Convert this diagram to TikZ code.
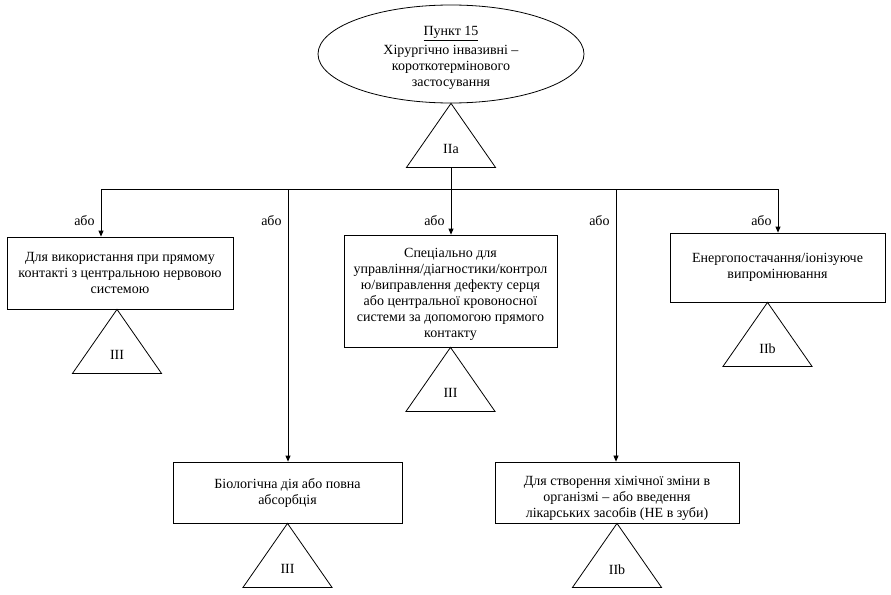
\documentclass[tikz,border=0pt]{standalone}
\usepackage{fontspec}
\setmainfont{Liberation Serif}
\usetikzlibrary{arrows.meta,calc,shapes.geometric}

\tikzset{
  txt/.style={font=\fontsize{14}{16}\selectfont},
  box/.style={draw, rectangle, txt, align=center, inner sep=2pt},
  ili/.style={txt, anchor=east, inner sep=1pt},
  classlbl/.style={txt, inner sep=1pt}
}

% triangle hanging below a node: apex, name, class
\newcommand{\classtri}[3]{
  \draw (#1) -- ++(-44.5,64) -- ++(89,0) -- cycle;
  \node[classlbl] (#2) at ($(#1)+(0,46)$) {#3};
}

\begin{document}
\begin{tikzpicture}[x=1pt,y=-1pt,line width=0.8pt,>={Triangle[length=6pt,width=5pt]}]
  \useasboundingbox (0,0) rectangle (891,594);

  % heading
  \node[draw, ellipse, minimum width=266pt, minimum height=98pt, inner sep=0pt] (punkt) at (451,54) {};
  \node[txt, align=center] (punkttxt) at (451,58)
    {\underline{Пункт 15}\\[3pt]Хірургічно інвазивні –\\короткотермінового\\застосування};
  \classtri{punkt.south}{iia}{IIa}
  \coordinate (iiabase) at ($(punkt.south)+(0,65)$);

  % the five rules
  \node[box, minimum width=226pt, minimum height=72pt] (cns) at (120,273)
    {Для використання при прямому\\контакті з центральною нервовою\\системою};
  \node[box, minimum width=229pt, minimum height=61pt] (bio) at (287.5,492.5)
    {Біологічна дія або повна\\абсорбція};
  \node[box, minimum width=213pt, minimum height=112pt] (heart) at (450.5,291)
    {\rule{0pt}{16pt}Спеціально для\\управління/діагностики/контрол\\ю/виправлення дефекту серця\\або центральної кровоносної\\системи за допомогою прямого\\контакту};
  \node[box, minimum width=244pt, minimum height=61pt] (chem) at (617,492.5)
    {\rule{0pt}{22pt}Для створення хімічної зміни в\\організмі – або введення\\лікарських засобів (НЕ в зуби)};
  \node[box, minimum width=215pt, minimum height=69pt] (energy) at (777.5,267.5)
    {Енергопостачання/іонізуюче\\випромінювання};

  % branches with "або"
  \foreach \x/\b in {101/cns, 288/bio, 451/heart, 616/chem, 778/energy} {
    \coordinate (j\b) at (\x,189);
    \draw[->] (j\b) -- (j\b |- \b.north);
    \node[ili] (or\b) at (\x-5,221) {або};
  }
  \draw (jcns) -- (jenergy);
  \draw (iiabase) -- (jheart);

  % classes
  \classtri{$(cns.south)+(-3,0)$}{tcns}{III}
  \classtri{bio.south}{tbio}{III}
  \classtri{heart.south}{theart}{III}
  \classtri{chem.south}{tchem}{IIb}
  \classtri{$(energy.south)+(-10,0)$}{tenergy}{IIb}
\end{tikzpicture}
\end{document}
